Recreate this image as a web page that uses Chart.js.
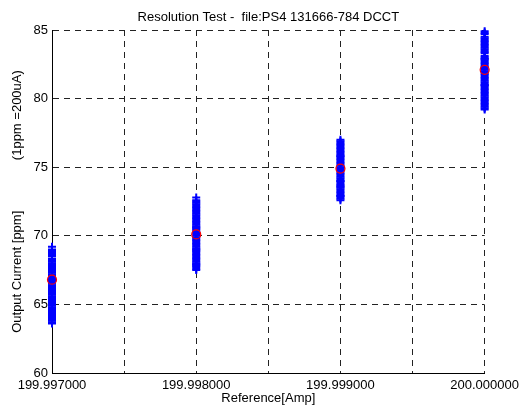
<!DOCTYPE html>
<html lang="en">
<head>
    <meta charset="UTF-8">
    <title>Resolution Test</title>
    <script src="https://cdn.jsdelivr.net/npm/chart.js@4.4.1/dist/chart.umd.min.js"></script>
    <style>
        body {
            margin: 0;
            background-color: white;
        }
    </style>
</head>
<body>
    <canvas id="resChart" width="524" height="412"></canvas>

    <script>
        // reference currents [Amp]
        const refAmps = [199.997, 199.998, 199.999, 200.000];
        // vertical grid positions and labeled ticks
        const xGrid = [199.997, 199.9975, 199.998, 199.9985, 199.999, 199.9995, 200.000];
        const xLabels = ['199.997000', '', '199.998000', '', '199.999000', '', '200.000000'];
        const yTicks = [60, 65, 70, 75, 80, 85];

        // measured output current [ppm] at each reference
        const run1 = [66.8, 65.9, 67.4, 64.2, 68.1, 66.3, 63.7, 69.2, 65.4, 67.9, 66.0, 64.8, 68.6, 67.1, 65.1, 66.6,
                      63.9, 68.9, 67.6, 64.5, 66.9, 65.7, 68.3, 64.0, 67.3, 66.2, 65.3, 68.8, 64.7, 67.0, 66.5, 63.6,
                      65.0, 67.8, 64.4, 66.1, 68.5, 65.6, 67.2, 64.1, 66.7, 68.0, 65.2, 63.8, 67.5, 66.4, 64.9, 68.7,
                      65.8, 69.0, 64.3, 66.0, 67.7, 64.6, 68.2, 65.5];
        const run2 = [70.1, 69.2, 71.3, 68.0, 72.4, 70.6, 67.6, 71.8, 69.7, 72.8, 68.5, 70.9, 69.0, 71.5, 67.9, 70.3,
                      72.1, 68.8, 69.5, 71.1, 68.2, 70.0, 72.6, 69.9, 68.6, 71.7, 70.5, 67.7, 69.3, 70.8, 72.3, 67.5,
                      69.6, 71.0, 68.3, 70.4, 72.0, 68.9, 71.4, 69.1, 70.7, 67.8, 71.9, 69.4, 68.1, 70.2, 72.5, 68.7,
                      71.2, 69.8, 71.6, 68.4, 70.6, 72.2, 69.0, 67.9];
        const run3 = [74.9, 73.8, 76.1, 72.7, 75.5, 74.2, 76.8, 73.3, 75.0, 72.9, 76.4, 74.6, 73.6, 75.8, 74.0, 77.0,
                      73.1, 75.3, 74.4, 76.6, 73.5, 75.1, 72.6, 74.8, 76.2, 73.9, 75.6, 74.1, 76.9, 73.0, 74.5, 75.9,
                      73.4, 76.3, 74.7, 72.8, 75.2, 73.7, 76.0, 74.3, 75.7, 73.2, 76.5, 74.0, 75.4, 76.7, 73.6, 74.9,
                      72.9, 75.8];
        const run4 = [82.1, 80.8, 83.4, 79.6, 84.2, 81.5, 82.9, 80.2, 83.8, 81.0, 79.3, 82.5, 84.7, 80.5, 83.1, 81.8,
                      79.9, 84.4, 82.3, 80.0, 83.6, 81.2, 79.4, 82.7, 84.0, 80.7, 81.6, 83.3, 79.8, 82.0, 84.8, 81.4,
                      80.3, 82.8, 83.9, 80.9, 79.5, 82.4, 84.5, 81.1, 83.0, 80.4, 81.9, 84.1, 79.7, 82.6, 83.5, 80.6,
                      81.3, 84.3, 82.2, 80.1, 83.7, 81.7, 79.2, 84.9, 82.9, 81.0];
        const runs = [run1, run2, run3, run4];
        // mean of each run
        const means = [66.8, 70.1, 74.9, 82.1];

        const fontFamily = '"Liberation Sans", Arial, sans-serif';
        const titleText = 'Resolution Test -  file:PS4 131666-784 DCCT';

        const samples = [];
        runs.forEach((run, i) => {
            run.forEach(v => samples.push({ x: refAmps[i], y: v }));
        });

        Chart.defaults.font.family = fontFamily;
        Chart.defaults.font.size = 13;
        Chart.defaults.color = '#000';

        // title centred over the plot area, like the original figure
        const plotTitle = {
            id: 'plotTitle',
            afterDraw: chart => {
                const c = chart.ctx;
                const area = chart.chartArea;
                c.save();
                c.font = '13px ' + fontFamily;
                c.fillStyle = '#000';
                c.textAlign = 'center';
                c.textBaseline = 'middle';
                c.fillText(titleText, (area.left + area.right) / 2, 17);
                c.restore();
            }
        };

        const ctx = document.getElementById('resChart').getContext('2d');
        new Chart(ctx, {
            type: 'scatter',
            data: {
                datasets: [
                    {
                        label: 'mean',
                        data: means.map((m, i) => ({ x: refAmps[i], y: m })),
                        pointStyle: 'circle',
                        pointRadius: 4.5,
                        borderColor: '#ff0000',
                        backgroundColor: 'rgba(0,0,0,0)',
                        borderWidth: 1.2,
                        clip: false,
                        order: 0
                    },
                    {
                        label: 'samples',
                        data: samples,
                        pointStyle: 'cross',
                        pointRadius: 4,
                        borderColor: '#0000ff',
                        backgroundColor: '#0000ff',
                        borderWidth: 2,
                        clip: false,
                        order: 1
                    }
                ]
            },
            options: {
                responsive: false,
                animation: false,
                layout: { padding: { left: 0, right: 39, top: 30, bottom: 0 } },
                plugins: {
                    legend: { display: false },
                    tooltip: { enabled: false },
                    title: { display: false }
                },
                scales: {
                    x: {
                        type: 'linear',
                        min: 199.997,
                        max: 200.000,
                        afterBuildTicks: axis => {
                            axis.ticks = xGrid.map(v => ({ value: v }));
                        },
                        afterFit: axis => { axis.height = 39; },
                        ticks: {
                            autoSkip: false,
                            maxRotation: 0,
                            padding: 5,
                            callback: (value, index) => xLabels[index]
                        },
                        grid: {
                            color: '#222',
                            lineWidth: 1,
                            drawTicks: false
                        },
                        border: { display: true, color: '#000', width: 1, dash: [6, 5] },
                        title: {
                            display: true,
                            text: 'Reference[Amp]',
                            padding: { top: 0, bottom: 6 }
                        }
                    },
                    y: {
                        min: 60,
                        max: 85,
                        afterBuildTicks: axis => {
                            axis.ticks = yTicks.map(v => ({ value: v }));
                        },
                        afterFit: axis => { axis.width = 52; },
                        ticks: {
                            padding: 4
                        },
                        grid: {
                            color: '#222',
                            lineWidth: 1,
                            drawTicks: false
                        },
                        border: { display: true, color: '#000', width: 1, dash: [6, 5] },
                        title: {
                            display: true,
                            text: 'Output Current [ppm]              (1ppm =200uA)',
                            padding: { top: 10, bottom: 0 }
                        }
                    }
                }
            },
            plugins: [plotTitle]
        });
    </script>
</body>
</html>
